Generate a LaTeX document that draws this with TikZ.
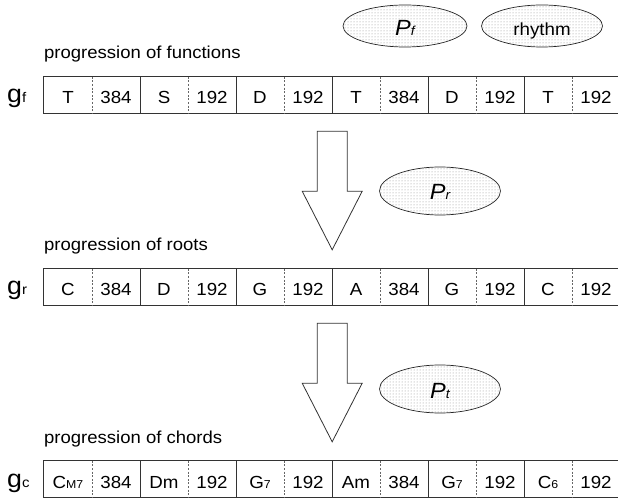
\documentclass[tikz,border=0pt]{standalone}
\usepackage{fontspec}
\setmainfont{Liberation Sans}[FakeStretch=1.07]
\usetikzlibrary{patterns,shapes.geometric,calc}

% small letters set on the baseline (chord qualities, indices)
\newcommand\smallsub[2][11.5]{{\fontsize{#1}{#1}\selectfont #2}}

\tikzset{
  cell/.style={minimum width=48pt, minimum height=36pt, inner sep=0pt,
    text height=18pt, text depth=0pt, font=\fontsize{17.5}{19}\selectfont},
  frame/.style={draw=black!80, line width=0.8pt},
  halfsep/.style={draw=black!60, line width=0.7pt, dash pattern=on 2pt off 1.6pt},
  rowlabel/.style={anchor=base west, inner sep=0pt, font=\fontsize{17.3}{19}\selectfont},
  gname/.style={anchor=base west, inner sep=0pt, font=\fontsize{25}{27}\selectfont},
  param/.style={ellipse, draw=black!85, line width=0.7pt, pattern=dots,
    pattern color=black!45, inner sep=0pt, text height=18pt, text depth=0pt,
    font=\fontsize{17.5}{19}\selectfont},
  blockarrow/.style={draw=black!80, line width=0.8pt, fill=white, line join=miter},
}

\begin{document}
\begin{tikzpicture}[x=1pt, y=-1pt]
\useasboundingbox (0,0) rectangle (618,502);
\clip (0,0) rectangle (618,502);

% ---- progression of functions ----
\node[rowlabel] (lf) at (44,59) {progression of functions};
\node[gname] (gf) at (7,103) {g\smallsub[14]{f}};
\foreach \t [count=\i] in {T,384,S,192,D,192,T,384,D,192,T,192}
  \node[cell] (f\i) at ({20+48*\i}, 95) {\t};

% ---- progression of roots ----
\node[rowlabel] (lr) at (44,251) {progression of roots};
\node[gname] (gr) at (7,295) {g\smallsub[14]{r}};
\foreach \t [count=\i] in {C,384,D,192,G,192,A,384,G,192,C,192}
  \node[cell] (r\i) at ({20+48*\i}, 287) {\t};

% ---- progression of chords ----
\node[rowlabel] (lc) at (44,443) {progression of chords};
\node[gname] (gc) at (7,487) {g\smallsub[14]{c}};
\foreach \t [count=\i] in {C\smallsub{M7},384,Dm,192,G\smallsub{7},192,Am,384,G\smallsub{7},192,C\smallsub{6},192}
  \node[cell] (c\i) at ({20+48*\i}, 479) {\t};

% frames and separators of the three rows
\foreach \r in {f,r,c} {
  \draw[frame] (\r1.north west) rectangle (\r12.south east);
  \foreach \i in {2,4,...,10}
    \draw[frame] (\r\i.north east) -- (\r\i.south east);
  \foreach \i in {1,3,...,11}
    \draw[halfsep] (\r\i.north east) -- (\r\i.south east);
}

% ---- transformation arrows ----
\draw[blockarrow] ($(f6.south east)+(-15,18)$) -- ++(30,0) -- ++(0,60) -- ++(15,0)
  -- ($(r6.north east)+(0,-19)$) -- ($(f6.south east)+(-30,78)$) -- ++(15,0) -- cycle;
\draw[blockarrow] ($(r6.south east)+(-15,18)$) -- ++(30,0) -- ++(0,60) -- ++(15,0)
  -- ($(c6.north east)+(0,-19)$) -- ($(r6.south east)+(-30,78)$) -- ++(15,0) -- cycle;

% ---- parameters ----
\node[param, minimum width=124pt, minimum height=42pt, text height=20pt] (pf) at (405,26)
  {\fontsize{22}{22}\selectfont\itshape P\smallsub[13]{f}};
\node[param, minimum width=121pt, minimum height=42pt, text height=20pt] (rh) at (542,26)
  {rhythm};
\node[param, minimum width=121pt, minimum height=48pt] (pr) at (440,191)
  {\fontsize{22}{22}\selectfont\itshape P\smallsub[13]{r}};
\node[param, minimum width=121pt, minimum height=48pt] (pt) at (440,389)
  {\fontsize{22}{22}\selectfont\itshape P\smallsub[13]{t}};
\end{tikzpicture}
\end{document}
